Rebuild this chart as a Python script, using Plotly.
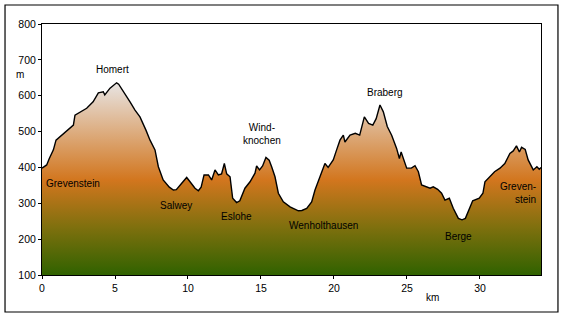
import plotly.graph_objects as go

km = [0, 0.32, 0.5, 0.78, 0.96, 1.35, 1.69, 2.15, 2.26, 2.6,
      3.06, 3.5, 3.86, 4.2, 4.3, 4.66, 5.11, 5.25, 5.75, 6.03,
      6.37, 6.71, 7.12, 7.4, 7.74, 7.97, 8.3, 8.72, 9.0, 9.2,
      9.57, 9.91, 10.14, 10.48, 10.71, 10.9, 11.1, 11.4, 11.62, 11.85,
      12.08, 12.3, 12.49, 12.65, 12.88, 13.06, 13.33, 13.55, 13.9, 14.25,
      14.59, 14.7, 14.9, 15.11, 15.34, 15.56, 15.73, 15.96, 16.19, 16.53,
      16.99, 17.56, 17.8, 18.13, 18.47, 18.7, 19.04, 19.38, 19.6, 19.95,
      20.18, 20.41, 20.64, 20.75, 21.1, 21.46, 21.76, 21.9, 22.08, 22.37,
      22.66, 22.89, 23.15, 23.38, 23.65, 23.95, 24.29, 24.48, 24.6, 24.98,
      25.3, 25.55, 25.78, 26.0, 26.36, 26.58, 26.8, 27.1, 27.37, 27.6,
      27.9, 28.17, 28.52, 28.77, 29.0, 29.3, 29.5, 29.95, 30.2, 30.34,
      30.68, 31.0, 31.37, 31.7, 32.05, 32.28, 32.5, 32.7, 32.85, 33.1,
      33.3, 33.65, 33.9, 34.06, 34.18]

elevation = [398, 407, 425, 449, 476, 490, 500, 518, 546, 555,
             565, 583, 608, 611, 602, 621, 636, 632, 602, 583,
             560, 541, 504, 476, 449, 402, 365, 345, 337, 338,
             356, 372, 360, 342, 335, 345, 379, 379, 365, 393,
             379, 382, 411, 382, 374, 314, 302, 307, 342, 360,
             384, 404, 393, 404, 428, 420, 402, 374, 328, 304,
             290, 279, 280, 286, 304, 337, 374, 411, 400, 421,
             449, 476, 490, 471, 490, 495, 490, 514, 541, 523,
             518, 536, 574, 555, 514, 490, 453, 425, 443, 398,
             398, 405, 388, 351, 345, 342, 346, 339, 328, 309,
             314, 286, 258, 254, 258, 290, 307, 314, 328, 360,
             374, 388, 398, 411, 439, 446, 460, 443, 456, 450,
             421, 393, 402, 395, 400]

place_names = ["Homert", "Grevenstein", "Salwey", "Eslohe", "Wind-<br>knochen",
               "Wenholthausen", "Braberg", "Berge", "Greven-<br>stein"]
place_km = [4.8, 2.15, 9.2, 13.3, 15.1, 19.3, 23.5, 28.5, 34.0]
place_elev = [672, 354, 295, 262, 492, 239, 610, 206, 329]
place_align = ["center", "center", "center", "center", "center",
               "center", "center", "center", "right"]

x_ticks = [0, 5, 10, 15, 20, 25, 30]
y_ticks = [100, 200, 300, 400, 500, 600, 700, 800]

FONT = "Liberation Sans, Arial, sans-serif"

fig = go.Figure()
fig.add_trace(go.Scatter(
    x=km, y=elevation, mode="lines", fill="tozeroy",
    line=dict(color="black", width=1.4),
    fillgradient=dict(
        type="vertical", start=100, stop=640,
        colorscale=[[0, "rgb(48,98,0)"], [0.25, "rgb(128,112,14)"],
                    [0.49, "rgb(210,118,30)"], [1, "rgb(232,230,230)"]],
    ),
    hoverinfo="skip", showlegend=False,
))

for name, xk, ye, al in zip(place_names, place_km, place_elev, place_align):
    fig.add_annotation(
        x=xk, y=ye, text=name, showarrow=False, align=al,
        xanchor="right" if al == "right" else "center", yanchor="middle",
        font=dict(family=FONT, size=10, color="black"),
    )

fig.add_annotation(xref="paper", yref="paper", x=-0.044, y=0.8, text="m",
                   showarrow=False, xanchor="center", yanchor="middle",
                   font=dict(family=FONT, size=10, color="black"))
fig.add_annotation(xref="paper", yref="paper", x=0.782, y=-0.088, text="km",
                   showarrow=False, xanchor="center", yanchor="middle",
                   font=dict(family=FONT, size=10, color="black"))

# outer chart frame
fig.add_shape(type="rect", xref="paper", yref="paper",
              x0=-0.0741, x1=1.034, y0=-0.1474, y1=1.0757,
              line=dict(color="black", width=1.2), fillcolor="rgba(0,0,0,0)")

fig.update_xaxes(range=[0, 34.18], tickvals=x_ticks, ticks="outside", ticklen=3,
                 tickcolor="black", showline=True, linecolor="black", linewidth=1,
                 mirror=True, showgrid=False, zeroline=False,
                 tickfont=dict(family=FONT, size=10.5, color="black"))
fig.update_yaxes(range=[100, 800], tickvals=y_ticks, ticks="outside", ticklen=3,
                 tickcolor="black", showline=True, linecolor="black", linewidth=1,
                 mirror=True, showgrid=False, zeroline=False,
                 tickfont=dict(family=FONT, size=10.5, color="black"))

fig.update_layout(
    width=565, height=318,
    margin=dict(l=42, r=24, t=24, b=43),
    paper_bgcolor="white", plot_bgcolor="white",
    font=dict(family=FONT, color="black"),
)

fig.write_html("out.html")
